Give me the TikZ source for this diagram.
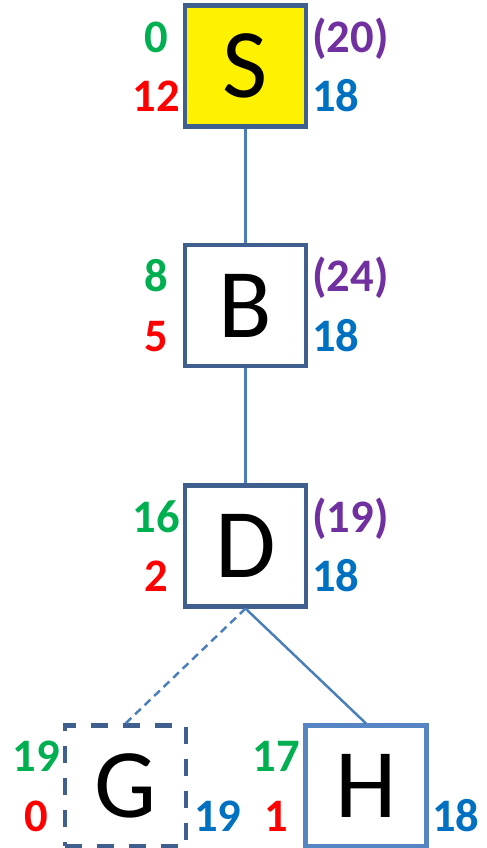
\documentclass[tikz,border=0pt]{standalone}
\usepackage{fontspec}
\setmainfont{Carlito}
\usetikzlibrary{positioning}

\definecolor{boxblue}{HTML}{3F5F8E}
\definecolor{lightbox}{HTML}{5585C2}
\definecolor{linkblue}{HTML}{4A7EBB}
\definecolor{gnum}{HTML}{00B050}
\definecolor{rnum}{HTML}{FF0000}
\definecolor{pnum}{HTML}{7030A0}
\definecolor{bnum}{HTML}{0070C0}

\begin{document}
\begin{tikzpicture}[
            state/.style={rectangle, draw=boxblue, line width=2.3pt, fill=white, minimum width=2.42cm, minimum height=2.42cm, inner sep=0pt, font=\fontsize{56}{56}\selectfont},
            % numbers beside the boxes
            num/.style={inner sep=0pt, anchor=base, font=\fontsize{26.5}{26.5}\selectfont\bfseries},
            gval/.style={num, text=gnum},
            rval/.style={num, text=rnum},
            pval/.style={num, text=pnum, anchor=base west},
            bval/.style={num, text=bnum, anchor=base west},
            link/.style={linkblue, line width=1.4pt},
            guess/.style={link, dash pattern=on 4.5pt off 3pt}
        ]
            \useasboundingbox (0,0) rectangle (9.72,16.96);

            % --- boxes ---
            \node[state, fill=yellow] (S) at (4.91,15.64) {S};
            \node[state] (B) at (4.91,10.85) {B};
            \node[state] (D) at (4.91,6.04) {D};
            \node[state, dash pattern=on 9.6pt off 8.6pt] (G) at (2.51,1.24) {G};
            \node[state, draw=lightbox] (H) at (7.32,1.24) {H};

            % --- links ---
            \draw[link] (S.south) -- (B.north);
            \draw[link] (B.south) -- (D.north);
            \draw[guess] (D.south) -- (G.north);
            \draw[link] (D.south) -- (H.north);

            % --- S ---
            \node[gval] (Sg) at (3.12,15.90) {0};
            \node[rval] (Sr) at (3.12,14.72) {12};
            \node[pval] (Sp) at (6.24,15.90) {(20)};
            \node[bval] (Sb) at (6.24,14.72) {18};

            % --- B ---
            \node[gval] (Bg) at (3.12,11.12) {8};
            \node[rval] (Br) at (3.12,9.93) {5};
            \node[pval] (Bp) at (6.24,11.12) {(24)};
            \node[bval] (Bb) at (6.24,9.93) {18};

            % --- D ---
            \node[gval] (Dg) at (3.12,6.30) {16};
            \node[rval] (Dr) at (3.12,5.12) {2};
            \node[pval] (Dp) at (6.24,6.30) {(19)};
            \node[bval] (Db) at (6.24,5.12) {18};

            % --- G ---
            \node[gval] (Gg) at (0.72,1.52) {19};
            \node[rval] (Gr) at (0.72,0.32) {0};
            \node[bval] (Gb) at (3.88,0.32) {19};

            % --- H ---
            \node[gval] (Hg) at (5.53,1.52) {17};
            \node[rval] (Hr) at (5.53,0.32) {1};
            \node[bval] (Hb) at (8.64,0.32) {18};
        \end{tikzpicture}
\end{document}
